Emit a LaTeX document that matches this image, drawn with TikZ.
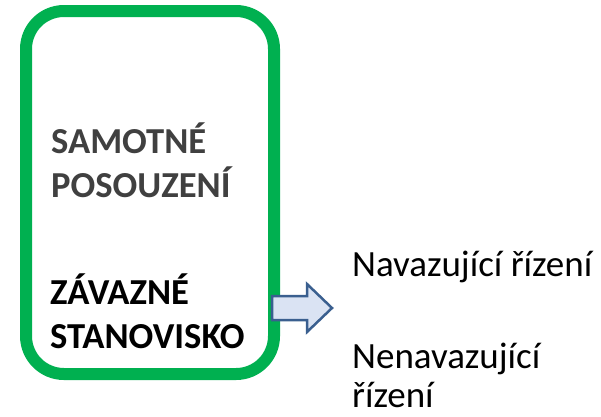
\documentclass[tikz,border=0pt]{standalone}
\usepackage{fontspec}
\setmainfont{Carlito}
\definecolor{boxgreen}{HTML}{00B050}
\definecolor{darkgraytext}{HTML}{404040}
\definecolor{arrowfill}{HTML}{DAE3F3}
\definecolor{arrowline}{HTML}{3A5F8F}
\tikzset{
  heading/.style={font=\bfseries\fontsize{36.6}{44}\selectfont, anchor=base west, inner sep=0pt, align=left},
  plain/.style={font=\fontsize{37}{39}\selectfont, anchor=base west, inner sep=0pt, align=left},
}
\begin{document}
\begin{tikzpicture}[x=1pt,y=-1pt]
\useasboundingbox (0,0) rectangle (601,416);
\draw[boxgreen, line width=12pt, rounded corners=38pt] (26,11) rectangle (274,374);
\node[heading, text=darkgraytext] (samotne) at (51,197) {SAMOTNÉ\\POSOUZENÍ};
\node[heading, text=black] (zavazne) at (50,348) {ZÁVAZNÉ\\STANOVISKO};
\draw[arrowline, fill=arrowfill, line width=2.5pt, line join=miter]
  (272,296) -- (307,296) -- (307,284) -- (332,308) -- (307,332) -- (307,320) -- (272,320) -- cycle;
\node[plain] (navaz) at (352,276) {Navazující řízení};
\node[plain] (nenavaz) at (352,407) {Nenavazující\\řízení};
\end{tikzpicture}
\end{document}
